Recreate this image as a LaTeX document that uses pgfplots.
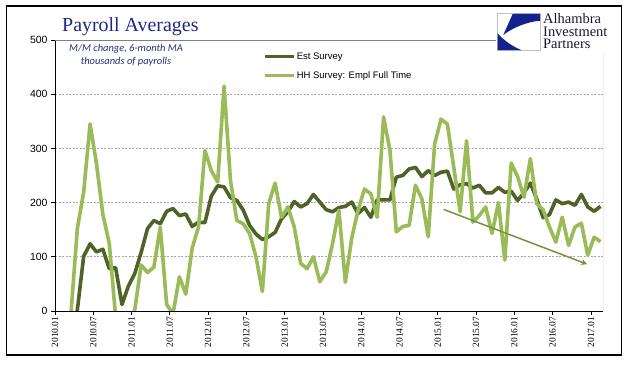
\documentclass[border=0pt]{standalone}
\usepackage{pgfplots}
\pgfplotsset{compat=1.18}
\usetikzlibrary{arrows.meta}
\usepackage{fontspec}
\setmainfont{Liberation Sans}
\newfontfamily\serif{Liberation Serif}
\newfontfamily\cali{Carlito}
\definecolor{estc}{RGB}{79,98,40}
\definecolor{hhc}{RGB}{155,187,89}
\definecolor{arrc}{RGB}{118,146,60}
\definecolor{titlec}{RGB}{32,40,130}
\definecolor{subc}{RGB}{30,50,120}
\definecolor{logob}{RGB}{20,35,140}
\definecolor{logot}{RGB}{25,25,50}
\begin{document}
\begin{tikzpicture}
\useasboundingbox (0,0) rectangle (641bp,375bp);
\fill[white] (0,0) rectangle (641bp,375bp);
\begin{axis}[
  at={(55bp,64bp)}, anchor=south west,
  scale only axis, width=548bp, height=271bp,
  xmin=-0.5, xmax=85.39, ymin=0, ymax=500,
  axis x line*=bottom, axis y line*=left,
  axis line style={-, black, line width=0.8bp},
  xtick={-0.5,5.5,11.5,17.5,23.5,29.5,35.5,41.5,47.5,53.5,59.5,65.5,71.5,77.5,83.5},
  xticklabels={2010.01,2010.07,2011.01,2011.07,2012.01,2012.07,2013.01,2013.07,2014.01,2014.07,2015.01,2015.07,2016.01,2016.07,2017.01},
  xticklabel style={rotate=90, anchor=east, font=\serif\fontsize{9.5}{10}\selectfont, inner sep=1.5bp},
  ytick={0,100,200,300,400,500},
  yticklabel style={font=\fontsize{10.5}{12}\selectfont},
  /pgf/number format/assume math mode=true,
  tick align=outside, major tick length=4bp, tick style={black, line width=0.8bp},
  ymajorgrids, grid style={dash pattern=on 2bp off 1.5bp, gray!70, line width=0.6bp},
  legend style={at={(0.3796,0.958)}, anchor=north west, draw=none, fill=none,
    font=\fontsize{9.5}{11}\selectfont, row sep=8.5bp, inner sep=0pt, nodes={inner sep=1bp}},
  legend cell align=left,
  legend image code/.code={\draw[#1] (0bp,0bp) -- (29bp,0bp);},
  clip=true,
]
\addplot[estc, line width=3.6bp, line join=round] coordinates {
(2,-60) (3,2) (4,101) (5,124) (6,109) (7,114) (8,78) (9,80) (10,12) (11,46)
(12,69) (13,108) (14,152) (15,167) (16,161) (17,184) (18,189) (19,176) (20,179) (21,156)
(22,164) (23,163) (24,212) (25,231) (26,229) (27,209) (28,204) (29,186) (30,158) (31,142)
(32,132) (33,137) (34,145) (35,170) (36,183) (37,202) (38,192) (39,198) (40,215) (41,201)
(42,187) (43,183) (44,191) (45,193) (46,201) (47,180) (48,191) (49,173) (50,205) (51,205)
(52,205) (53,247) (54,250) (55,262) (56,265) (57,248) (58,259) (59,250) (60,256) (61,258)
(62,225) (63,233) (64,235) (65,227) (66,232) (67,218) (68,218) (69,228) (70,219) (71,221)
(72,204) (73,218) (74,236) (75,207) (76,172) (77,178) (78,205) (79,198) (80,201) (81,195)
(82,215) (83,192) (84,184) (85,193)
};
\addlegendentry{Est Survey}
\addplot[hhc, line width=3.6bp, line join=round] coordinates {
(2,-5) (3,152) (4,220) (5,345) (6,272) (7,178) (8,125) (9,-10) (10,-40) (11,-30)
(12,2) (13,85) (14,71) (15,81) (16,155) (17,12) (18,-5) (19,63) (20,31) (21,116)
(22,155) (23,296) (24,259) (25,238) (26,415) (27,241) (28,167) (29,161) (30,143) (31,100)
(32,36) (33,198) (34,236) (35,173) (36,192) (37,155) (38,88) (39,78) (40,100) (41,54)
(42,72) (43,124) (44,186) (45,53) (46,134) (47,186) (48,225) (49,216) (50,173) (51,358)
(52,296) (53,146) (54,156) (55,158) (56,232) (57,207) (58,137) (59,308) (60,354) (61,345)
(62,265) (63,183) (64,314) (65,164) (66,176) (67,192) (68,143) (69,200) (70,94) (71,273)
(72,248) (73,210) (74,281) (75,198) (76,187) (77,155) (78,127) (79,173) (80,121) (81,155)
(82,162) (83,103) (84,136) (85,128)
};
\addlegendentry{HH Survey: Empl Full Time}
\addplot[arrc, line width=1.5bp, -{Stealth[length=6bp,width=6bp]}, forget plot] coordinates {(60.4,187.5) (82.9,86.4)};
\draw[gray, line width=0.8bp] (rel axis cs:0,1) -- (rel axis cs:1,1) -- (rel axis cs:1,0);
\end{axis}
% logo
\fill[white] (496bp,322.5bp) rectangle (617bp,362bp);
\draw[gray!50, line width=0.6bp] (497bp,324.3bp) rectangle (540.7bp,361.7bp);
\fill[logob] (512.7bp,361.2bp) -- (540.2bp,361.2bp) -- (540.2bp,354.3bp) .. controls (526.7bp,353.3bp) and (511.7bp,346.7bp) .. (503.3bp,340bp) -- cycle;
\fill[logob] (497.5bp,341.7bp) .. controls (505bp,333.3bp) and (513.3bp,328.3bp) .. (521.7bp,324.8bp) -- (497.5bp,324.8bp) -- cycle;
\node[anchor=north west, inner sep=0pt, align=left, text=logot, font=\serif\fontsize{14.5}{12.5}\selectfont] at (543bp,361.5bp) {Alhambra\\Investment\\Partners};
% title
\node[anchor=base west, inner sep=0pt, text=titlec, font=\serif\fontsize{20}{24}\selectfont] at (62bp,343.3bp) {Payroll Averages};
\node[anchor=base, inner sep=0pt, text=subc, font=\cali\itshape\fontsize{10.5}{12}\selectfont] at (126bp,323.5bp) {M/M change, 6-month MA};
\node[anchor=base, inner sep=0pt, text=subc, font=\cali\itshape\fontsize{10.5}{12}\selectfont] at (126bp,310.5bp) {thousands of payrolls};
% frame
\draw[black, line width=1.2bp] (6.5bp,20bp) rectangle (621.7bp,369bp);
\end{tikzpicture}
\end{document}
